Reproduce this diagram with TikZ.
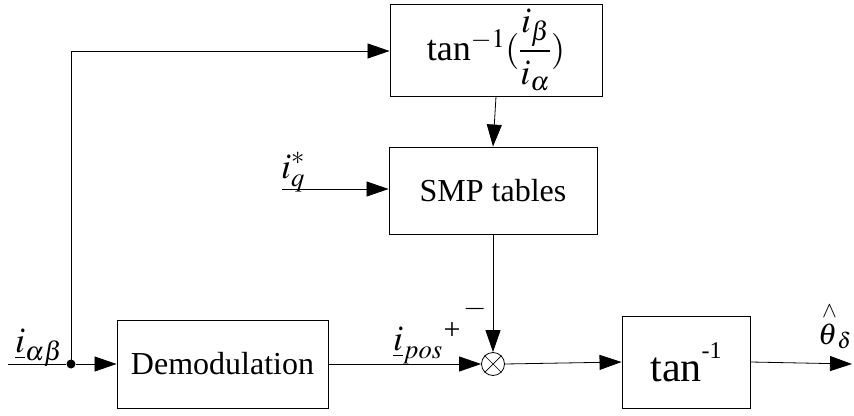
\documentclass[tikz,border=0pt]{standalone}
\usepackage{mathptmx}
\usepackage{fontspec}
\setmainfont{Liberation Serif}
\usetikzlibrary{arrows.meta}
\begin{document}
\begin{tikzpicture}[x=1pt,y=-1pt,
  blk/.style={draw,line width=0.9pt,minimum width=#1,inner sep=0pt},
  conn/.style={line width=0.8pt},
  arr/.style={conn,-{Triangle[length=22pt,width=15pt]}},
  lbl/.style={inner sep=0pt,font=\fontsize{36}{40}\selectfont}]
\useasboundingbox (0,0) rectangle (854,415);
\node[blk=212pt,minimum height=92pt,font=\fontsize{36}{40}\selectfont] (atan) at (496,50) {tan$^{-1}({\displaystyle\frac{i_\beta}{i_\alpha}})$};
\node[blk=208pt,minimum height=87pt,font=\fontsize{32}{38}\selectfont] (smp) at (493,190.5) {SMP tables};
\node[blk=211pt,minimum height=88pt,font=\fontsize{32}{38}\selectfont] (demod) at (222.5,364) {Demodulation};
\node[blk=128pt,minimum height=92pt,font=\fontsize{42}{48}\selectfont] (tanb) at (686,362) {tan\raisebox{0.55em}{\fontsize{24}{28}\selectfont -1}};
\node[draw,circle,line width=0.8pt,minimum size=23pt,inner sep=0pt] (sum) at (493,364) {};
\draw[line width=0.7pt] (sum.45) -- (sum.225) (sum.135) -- (sum.315);
\coordinate (in) at (8,364);
\node[fill,circle,minimum size=9pt,inner sep=0pt] (dot) at (71,364) {};
\coordinate (corner) at (71,51);
\coordinate (iq) at (282,189);
\coordinate (out) at (852,364);
\draw[conn] (in) -- (dot);
\draw[arr] (dot) -- (demod.west);
\draw[arr] (dot.center) -- (corner) -- (atan.west |- corner);
\draw[arr] (atan.south) -- (smp.north);
\draw[arr] (iq) -- (iq -| smp.west);
\draw[arr] (smp.south) -- (sum.north);
\draw[arr] (demod.east) -- (sum.west);
\draw[arr] (sum.east) -- (tanb.west);
\draw[arr] (tanb.east) -- (out);
\node[lbl,anchor=base west] (lab) at (15,352) {$\underline{i}_{\alpha\beta}$};
\node[lbl,anchor=base west] (lq) at (281,178) {$i_q^{*}$};
\node[lbl,anchor=base west] (lpos) at (393,350) {$\underline{i}_{pos}$};
\node[inner sep=0pt,font=\fontsize{30}{34}\selectfont] (plus) at (452,331) {+};
\node[inner sep=0pt,font=\fontsize{30}{34}\selectfont] (minus) at (475,309) {$-$};
\node[lbl,anchor=base west,font=\fontsize{30}{34}\selectfont] (lth) at (818,342) {$\stackrel{\wedge}{\theta}_{\delta}$};
\end{tikzpicture}
\end{document}
